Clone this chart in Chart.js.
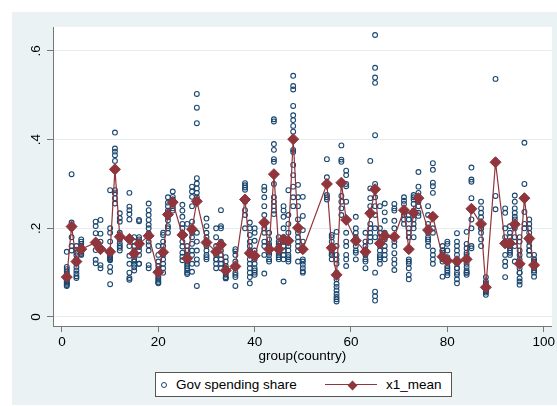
<!DOCTYPE html>
<html>
<head>
<meta charset="utf-8">
<script src="https://cdn.jsdelivr.net/npm/chart.js@4.4.1/dist/chart.umd.min.js"></script>
<style>
  body { margin: 0; background: #fff; }
  #wrap { position: relative; width: 557px; height: 406px; }
  #legend {
    position: absolute; left: 155px; top: 372px; width: 295px; height: 23px;
    border: 1px solid #555; background: #fff;
    font: 13.5px "Liberation Sans", Arial, sans-serif; color: #000; line-height: 23px;
  }
  #legend span { position: absolute; }
  .lg-circle { left: 5px; top: 9px; width: 4px; height: 4px; border: 1px solid #1a476f; border-radius: 50%; }
  .lg-line { left: 169px; top: 11px; width: 52px; height: 1.3px; background: #90353b; }
  .lg-diamond { left: 192.5px; top: 8.5px; width: 7px; height: 7px; background: #90353b; transform: rotate(45deg); }
</style>
</head>
<body>
<div id="wrap">
  <canvas id="chart" width="557" height="406"></canvas>
  <div id="legend">
    <span class="lg-circle"></span><span style="left:20px;top:0">Gov spending share</span>
    <span class="lg-line"></span><span class="lg-diamond"></span><span style="left:230px;top:0">x1_mean</span>
  </div>
</div>
<script>
// country index (group(country)) and the observations of each one
const countries = [1, 2, 3, 4, 7, 8, 10, 11, 12, 14, 15, 16, 18, 20, 21, 22, 23, 25, 26, 27, 28, 30, 32, 33, 34, 36,
  38, 39, 40, 42, 43, 44, 45, 46, 47, 48, 49, 50, 55, 56, 57, 58, 59, 61, 63, 64, 65, 66, 67, 69, 71, 72, 73, 74,
  76, 77, 79, 80, 82, 84, 85, 87, 88, 90, 92, 93, 94, 95, 96, 97, 98];

const govShare = [
  [0.147, 0.113, 0.108, 0.103, 0.098, 0.094, 0.09, 0.086, 0.083, 0.08, 0.078, 0.075, 0.072, 0.07],
  [0.322, 0.213, 0.2, 0.18, 0.16, 0.15],
  [0.16, 0.152, 0.145, 0.139, 0.13, 0.122, 0.113, 0.105, 0.098, 0.092, 0.088],
  [0.175, 0.17, 0.165, 0.16, 0.155, 0.152, 0.15, 0.148, 0.145, 0.142, 0.14],
  [0.215, 0.205, 0.189, 0.17, 0.151, 0.129, 0.121],
  [0.219, 0.188, 0.17, 0.151, 0.117, 0.11],
  [0.286, 0.2, 0.19, 0.17, 0.148, 0.142, 0.138, 0.135, 0.132, 0.13, 0.128, 0.113, 0.102, 0.074],
  [0.416, 0.38, 0.373, 0.365, 0.352, 0.286, 0.279, 0.268, 0.256],
  [0.234, 0.223, 0.215, 0.19, 0.174, 0.166, 0.16, 0.156, 0.15],
  [0.28, 0.249, 0.241, 0.232, 0.22, 0.175, 0.16, 0.138, 0.12, 0.1, 0.088, 0.084],
  [0.18, 0.17, 0.16, 0.15, 0.145, 0.138, 0.13, 0.125, 0.118, 0.112, 0.105],
  [0.219, 0.216, 0.18, 0.175, 0.17, 0.166, 0.162, 0.158, 0.15, 0.14, 0.12, 0.12],
  [0.256, 0.241, 0.23, 0.219, 0.208, 0.2, 0.189, 0.17, 0.162, 0.15, 0.117, 0.11],
  [0.16, 0.14, 0.125, 0.115, 0.108, 0.1, 0.095, 0.09, 0.086, 0.082, 0.078, 0.076],
  [0.19, 0.185, 0.17, 0.16, 0.15, 0.14, 0.13, 0.12, 0.11, 0.1],
  [0.27, 0.258, 0.25, 0.24, 0.232, 0.225, 0.218, 0.205, 0.2, 0.19],
  [0.283, 0.271, 0.265, 0.26, 0.255, 0.25, 0.245, 0.24],
  [0.253, 0.24, 0.226, 0.21, 0.2, 0.19, 0.17, 0.159, 0.145, 0.136, 0.128],
  [0.21, 0.16, 0.15, 0.14, 0.135, 0.13, 0.125, 0.12, 0.115, 0.11, 0.105, 0.1, 0.097],
  [0.294, 0.283, 0.271, 0.25, 0.215, 0.2, 0.19, 0.18, 0.165, 0.15, 0.14, 0.12, 0.102],
  [0.503, 0.472, 0.437, 0.313, 0.301, 0.29, 0.28, 0.27, 0.19, 0.17, 0.15, 0.13, 0.12, 0.07],
  [0.222, 0.205, 0.19, 0.18, 0.17, 0.16, 0.15, 0.14, 0.135, 0.13],
  [0.2, 0.18, 0.16, 0.15, 0.14, 0.13, 0.13, 0.12, 0.11],
  [0.241, 0.205, 0.2, 0.17, 0.16, 0.15, 0.14, 0.13, 0.12, 0.11],
  [0.135, 0.125, 0.115, 0.11, 0.105, 0.1, 0.095, 0.09, 0.088, 0.087],
  [0.153, 0.148, 0.14, 0.125, 0.11, 0.1, 0.095, 0.09, 0.07],
  [0.302, 0.297, 0.292, 0.287, 0.26, 0.241, 0.23, 0.2],
  [0.213, 0.2, 0.185, 0.17, 0.16, 0.15, 0.14, 0.13, 0.12, 0.11, 0.1, 0.09, 0.076],
  [0.2, 0.19, 0.172, 0.15, 0.14, 0.13, 0.12, 0.11, 0.105, 0.1, 0.095],
  [0.294, 0.286, 0.27, 0.25, 0.23, 0.21, 0.2, 0.19, 0.17, 0.16, 0.14, 0.098],
  [0.19, 0.175, 0.165, 0.16, 0.155, 0.15, 0.15, 0.145, 0.14, 0.13, 0.125],
  [0.446, 0.441, 0.39, 0.377, 0.356, 0.35, 0.3, 0.27, 0.26, 0.25, 0.24, 0.232],
  [0.18, 0.17, 0.165, 0.16, 0.15, 0.145, 0.14, 0.135, 0.13],
  [0.25, 0.24, 0.226, 0.2, 0.18, 0.17, 0.17, 0.16, 0.15, 0.14, 0.13, 0.08],
  [0.286, 0.23, 0.21, 0.19, 0.17, 0.16, 0.15, 0.14, 0.135, 0.13, 0.125],
  [0.544, 0.521, 0.513, 0.476, 0.455, 0.444, 0.431, 0.418, 0.377, 0.372, 0.343, 0.32, 0.294, 0.27, 0.25],
  [0.298, 0.27, 0.25, 0.22, 0.2, 0.19, 0.18, 0.17, 0.16, 0.15, 0.125],
  [0.271, 0.228, 0.196, 0.17, 0.15, 0.13, 0.125, 0.118, 0.11, 0.103, 0.1],
  [0.356, 0.315, 0.3, 0.3, 0.275, 0.27, 0.265],
  [0.185, 0.18, 0.17, 0.16, 0.155, 0.15, 0.145, 0.14, 0.14, 0.13],
  [0.192, 0.16, 0.14, 0.13, 0.12, 0.1, 0.085, 0.075, 0.068, 0.06, 0.052, 0.045, 0.04, 0.035],
  [0.387, 0.355, 0.35, 0.3, 0.273, 0.26, 0.245, 0.23],
  [0.33, 0.32, 0.3, 0.295, 0.26, 0.22, 0.19, 0.17, 0.16, 0.14, 0.13, 0.115],
  [0.226, 0.2, 0.19, 0.18, 0.17, 0.16, 0.15, 0.145, 0.13],
  [0.19, 0.17, 0.16, 0.15, 0.14, 0.13, 0.125, 0.11],
  [0.352, 0.29, 0.268, 0.25, 0.23, 0.21, 0.2, 0.19, 0.18, 0.17],
  [0.636, 0.562, 0.54, 0.528, 0.41, 0.3, 0.27, 0.25, 0.23, 0.2, 0.18, 0.1, 0.057, 0.047, 0.037],
  [0.25, 0.2, 0.19, 0.18, 0.17, 0.16, 0.15, 0.14, 0.135, 0.13, 0.12],
  [0.256, 0.236, 0.217, 0.19, 0.18, 0.175, 0.16, 0.15, 0.14, 0.13],
  [0.255, 0.245, 0.24, 0.217, 0.2, 0.17, 0.16, 0.144, 0.13, 0.12, 0.106],
  [0.27, 0.262, 0.255, 0.24, 0.23, 0.22, 0.21],
  [0.23, 0.22, 0.2, 0.19, 0.18, 0.15, 0.13, 0.125, 0.12, 0.11, 0.095, 0.085],
  [0.275, 0.27, 0.265, 0.255, 0.24, 0.22, 0.21, 0.2, 0.18],
  [0.327, 0.294, 0.28, 0.27, 0.26, 0.25, 0.235, 0.228],
  [0.25, 0.23, 0.21, 0.2, 0.19, 0.18, 0.175, 0.17, 0.16],
  [0.347, 0.332, 0.303, 0.295, 0.28, 0.2, 0.19, 0.15, 0.14, 0.13, 0.12],
  [0.16, 0.15, 0.15, 0.145, 0.14, 0.135, 0.13, 0.125, 0.091],
  [0.17, 0.165, 0.15, 0.135, 0.125, 0.115, 0.11, 0.105, 0.1, 0.094],
  [0.189, 0.17, 0.16, 0.15, 0.14, 0.13, 0.12, 0.11, 0.11, 0.1, 0.095, 0.085, 0.076],
  [0.192, 0.165, 0.155, 0.145, 0.14, 0.13, 0.12, 0.113, 0.105, 0.1, 0.1, 0.095],
  [0.337, 0.31, 0.305, 0.268, 0.24, 0.22, 0.2, 0.16, 0.155],
  [0.26, 0.245, 0.235, 0.225, 0.2, 0.2, 0.19, 0.175, 0.16],
  [0.09, 0.08, 0.075, 0.07, 0.065, 0.06, 0.058, 0.055, 0.05],
  [0.537, 0.273, 0.243],
  [0.245, 0.235, 0.2, 0.18, 0.165, 0.14, 0.125, 0.115, 0.09],
  [0.205, 0.19, 0.18, 0.17, 0.16, 0.155, 0.15, 0.145, 0.14],
  [0.274, 0.26, 0.245, 0.235, 0.226, 0.22, 0.2, 0.18, 0.17, 0.16, 0.125],
  [0.18, 0.17, 0.15, 0.14, 0.13, 0.12, 0.11, 0.1, 0.1, 0.087, 0.08, 0.073],
  [0.393, 0.3, 0.237, 0.21, 0.2],
  [0.22, 0.21, 0.2, 0.19, 0.18, 0.17, 0.16, 0.15, 0.15, 0.14],
  [0.14, 0.13, 0.13, 0.125, 0.12, 0.115, 0.11, 0.105, 0.1, 0.091]
];

// x1_mean for each country
const meanShare = [0.090, 0.204, 0.125, 0.153, 0.168, 0.153, 0.147, 0.333, 0.181, 0.176, 0.143, 0.165, 0.183,
  0.101, 0.146, 0.231, 0.259, 0.185, 0.132, 0.198, 0.261, 0.168, 0.147, 0.163, 0.105, 0.114, 0.265, 0.144,
  0.138, 0.213, 0.153, 0.322, 0.153, 0.175, 0.172, 0.401, 0.201, 0.153, 0.300, 0.156, 0.095, 0.303, 0.219,
  0.172, 0.147, 0.234, 0.288, 0.166, 0.183, 0.181, 0.241, 0.153, 0.235, 0.268, 0.196, 0.226, 0.136, 0.127,
  0.126, 0.130, 0.244, 0.210, 0.067, 0.349, 0.166, 0.166, 0.209, 0.120, 0.268, 0.177, 0.117];

const xTicks = [0, 20, 40, 60, 80, 100];
const yTicks = [0, 0.2, 0.4, 0.6];
const yTickLabels = ['0', '.2', '.4', '.6'];

const NAVY = '#1a476f';
const MAROON = '#90353b';

const obsPoints = [];
countries.forEach((c, i) => govShare[i].forEach(v => obsPoints.push({ x: c, y: v })));
const meanPoints = countries.map((c, i) => ({ x: c, y: meanShare[i] }));

Chart.defaults.font.family = "'Liberation Sans', Arial, sans-serif";
Chart.defaults.font.size = 13.5;
Chart.defaults.color = '#000';

// graph region + white plot region behind everything
const stataBackground = {
  id: 'stataBackground',
  beforeDraw(chart) {
    const { ctx, chartArea: a } = chart;
    ctx.save();
    ctx.fillStyle = '#eaf2f3';
    ctx.fillRect(12, 12, 545, 393);
    ctx.fillStyle = '#fff';
    ctx.fillRect(a.left, a.top, a.right - a.left, a.bottom - a.top);
    ctx.restore();
  }
};

new Chart(document.getElementById('chart'), {
  type: 'scatter',
  data: {
    datasets: [
      {
        label: 'x1_mean',
        data: meanPoints,
        showLine: true,
        borderColor: MAROON,
        borderWidth: 1.2,
        pointStyle: 'rectRot',
        pointRadius: 5.5,
        pointBackgroundColor: MAROON,
        pointBorderColor: MAROON,
        pointBorderWidth: 1,
        order: 0
      },
      {
        label: 'Gov spending share',
        data: obsPoints,
        pointStyle: 'circle',
        pointRadius: 2.4,
        pointBorderWidth: 1.1,
        pointBorderColor: NAVY,
        pointBackgroundColor: 'rgba(0,0,0,0)',
        order: 1
      }
    ]
  },
  options: {
    responsive: false,
    devicePixelRatio: 1,
    animation: false,
    layout: { autoPadding: false, padding: { left: 12, top: 27, right: 3, bottom: 40 } },
    plugins: { legend: { display: false }, tooltip: { enabled: false } },
    scales: {
      x: {
        type: 'linear',
        min: -1.86,
        max: 101.7,
        afterBuildTicks: s => { s.ticks = xTicks.map(v => ({ value: v })); },
        afterFit: s => { s.height = 40; },
        ticks: { padding: 2, maxRotation: 0 },
        grid: { drawOnChartArea: false, tickLength: 6, tickColor: '#777', tickWidth: 1 },
        border: { display: true, color: '#777', width: 1 },
        title: { display: true, text: 'group(country)', font: { size: 13.5 }, padding: { top: 0, bottom: 2 } }
      },
      y: {
        type: 'linear',
        min: -0.0203,
        max: 0.654,
        afterBuildTicks: s => { s.ticks = yTicks.map(v => ({ value: v })); },
        afterFit: s => { s.width = 41; },
        ticks: {
          minRotation: 90, maxRotation: 90, crossAlign: 'center', padding: 5,
          callback: v => yTickLabels[yTicks.indexOf(v)]
        },
        grid: { color: '#e4edef', lineWidth: 1, tickLength: 6, tickColor: '#777', tickWidth: 1 },
        border: { display: true, color: '#777', width: 1 }
      }
    }
  },
  plugins: [stataBackground]
});
</script>
</body>
</html>
